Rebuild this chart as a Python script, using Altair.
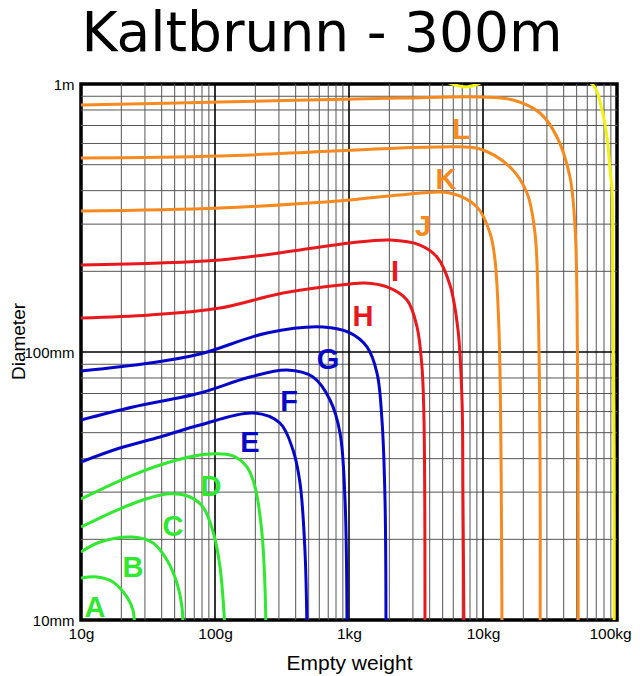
import altair as alt
import pandas as pd

TITLE = "Kaltbrunn - 300m"

# ---- curves: empty weight (g) vs diameter (mm) ----
A_w = [10, 13.2, 17.3, 22.0, 24.4, 25.3]
A_d = [14.35, 14.47, 13.87, 12.19, 10.9, 9]
B_w = [10, 13.9, 24.4, 34.5, 43.8, 52.0, 56.7, 57.7]
B_d = [17.94, 19.54, 20.4, 19.38, 16.75, 13.74, 11.18, 9]
C_w = [10, 18.6, 29.0, 43.8, 65.1, 81.4, 96.6, 109, 119]
C_d = [22.23, 25.72, 28.04, 29.53, 28.77, 26.39, 21.4, 15.77, 9]
D_w = [10, 24.4, 52.0, 91.8, 136, 173, 199, 224, 236, 240]
D_d = [28.28, 34.75, 39.54, 41.63, 40.93, 37.24, 31.35, 21.12, 13.3, 9]
E_w = [10, 19.5, 38.9, 77.3, 192, 305, 382, 431, 469, 486]
E_d = [38.86, 43.82, 48.17, 53.4, 59.2, 54.33, 43.08, 32.44, 18.25, 9]
F_w = [10, 24.4, 77.3, 182, 345, 539, 722, 857, 934, 967]
F_d = [55.75, 62.34, 70.31, 80.64, 85.65, 80.64, 66.2, 49.86, 28.04, 9]
G_w = [10, 32.7, 77.3, 244, 640, 1017, 1362, 1618, 1762, 1857, 1888]
G_d = [84.93, 90.98, 98.3, 117.8, 124.0, 117.8, 104.4, 83.47, 55.75, 28.04, 9]
H_w = [10, 32.7, 109, 322, 1017, 1316, 1921, 2710, 3218, 3505, 3628, 3690]
H_d = [133.9, 137.4, 145.9, 166.0, 179.4, 181.0, 174.9, 156.3, 124.0, 87.9, 55.75, 9]
I_w = [10, 109, 431, 1017, 2023, 3388, 4536, 5670, 6508, 6971, 7090, 7211]
I_d = [211.3, 220.5, 240.2, 255.1, 261.8, 250.7, 226.1, 177.8, 120.8, 66.2, 28.04, 9]
J_w = [10, 109, 1017, 2403, 5670, 9020, 11280, 12290, 13160, 13620, 13860]
J_d = [335.9, 344.6, 369.3, 385.4, 392.1, 347.6, 278.0, 220.5, 120.8, 43.08, 9]
K_w = [10, 109, 2403, 4775, 9500, 15900, 21300, 24430, 25730, 26640, 26700]
K_d = [529.6, 538.8, 577.1, 582.1, 572.2, 490.0, 392.1, 278.0, 156.3, 43.08, 9]
L_w = [10, 109, 2403, 9500, 16750, 26640, 35650, 44570, 48610, 50290, 51170, 51300]
L_d = [835.1, 856.9, 886.6, 894.2, 871.7, 779.4, 634.3, 449.8, 292.7, 156.3, 43.08, 9]
M_w = [4775, 7464, 11670, 37550, 66220, 77270, 84230, 88720, 91780, 93330, 94980, 95200]
M_d = [1044, 974.6, 1044, 1108, 991.4, 799.6, 634.3, 477.5, 402.3, 156.3, 43.08, 9]

CURVES = {
    "A": (A_w, A_d), "B": (B_w, B_d), "C": (C_w, C_d), "D": (D_w, D_d),
    "E": (E_w, E_d), "F": (F_w, F_d), "G": (G_w, G_d), "H": (H_w, H_d),
    "I": (I_w, I_d), "J": (J_w, J_d), "K": (K_w, K_d), "L": (L_w, L_d),
    "M": (M_w, M_d),
}
GREEN, BLUE, RED, ORANGE, YELLOW = "#30e830", "#0606c8", "#e8181c", "#f68a1e", "#f2f212"
CURVE_NAMES = ["A", "B", "C", "D", "E", "F", "G", "H", "I", "J", "K", "L", "M"]
CURVE_COLORS = [GREEN, GREEN, GREEN, GREEN, BLUE, BLUE, BLUE, RED, RED,
                ORANGE, ORANGE, ORANGE, YELLOW]

# ---- curve labels ----
LAB_TEXT = ["A", "B", "C", "D", "E", "F", "G", "H", "I", "J", "K", "L"]
LAB_W = [12.72, 24.4, 48.6, 93.3, 182, 356.6, 697.5, 1272, 2205, 3566, 5295, 6852]
LAB_D = [11.09, 15.63, 22.23, 31.35, 45.75, 65.07, 93.35, 135.1, 198.9, 292.7, 438.5, 673.7]

# ---- axes ----
X_TICKS = [10, 100, 1000, 10000, 100000]
X_LABELS = ["10g", "100g", "1kg", "10kg", "100kg"]
Y_TICKS = [10, 100, 1000]
Y_LABELS = ["10mm", "100mm", "1m"]

# ---- grid ----
MINOR_MULT = [2, 3, 4, 5, 6, 7, 8, 9]
X_DECADES = [10, 100, 1000, 10000]
Y_DECADES = [10, 100]
X_MAJOR = [100, 1000, 10000]
Y_MAJOR = [100]

FONT = "Liberation Sans"


def label_expr(vals, labs):
    parts = [f"datum.value == {v} ? '{l}'" for v, l in zip(vals, labs)]
    return " : ".join(parts) + " : ''"


rows = []
for name in CURVE_NAMES:
    ws, ds = CURVES[name]
    for i, (w, d) in enumerate(zip(ws, ds)):
        rows.append({"curve": name, "i": i, "w": w, "d": d})
curves_df = pd.DataFrame(rows)

labels_df = pd.DataFrame({"txt": LAB_TEXT, "w": LAB_W, "d": LAB_D,
                          "curve": LAB_TEXT})

vminor = pd.DataFrame({"w": [m * dec for dec in X_DECADES for m in MINOR_MULT]})
hminor = pd.DataFrame({"d": [m * dec for dec in Y_DECADES for m in MINOR_MULT]})
vmajor = pd.DataFrame({"w": X_MAJOR})
hmajor = pd.DataFrame({"d": Y_MAJOR})

xscale = alt.Scale(type="log", domain=[10, 100000])
yscale = alt.Scale(type="log", domain=[10, 1000])

xaxis = alt.Axis(values=X_TICKS, labelExpr=label_expr(X_TICKS, X_LABELS),
                 grid=False, ticks=False, domain=False, labelFont=FONT,
                 labelFontSize=15.5, labelColor="black", labelPadding=6,
                 labelFlush=False, labelOverlap=False,
                 labelOffset=alt.condition("datum.value == 100000",
                                           alt.value(-7), alt.value(0)),
                 title="Empty weight", titleFont=FONT, titleFontSize=21,
                 titleFontWeight="normal", titleColor="black",
                 titleBaseline="middle", titleY=43)
yaxis = alt.Axis(values=Y_TICKS, labelExpr=label_expr(Y_TICKS, Y_LABELS),
                 grid=False, ticks=False, domain=False, labelFont=FONT,
                 labelFontSize=15, labelColor="black", labelPadding=7,
                 labelFlush=False, labelOverlap=False,
                 title="Diameter", titleFont=FONT, titleFontSize=19,
                 titleFontWeight="normal", titleColor="black",
                 titleAngle=-90, titleBaseline="middle", titleAlign="center",
                 titleX=-63, titleY=257)

X = alt.X("w:Q", scale=xscale, axis=xaxis)
Y = alt.Y("d:Q", scale=yscale, axis=yaxis)

color = alt.Color("curve:N", scale=alt.Scale(domain=CURVE_NAMES, range=CURVE_COLORS),
                  legend=None)

g_vmin = alt.Chart(vminor).mark_rule(color="#555555", strokeWidth=1).encode(x=X)
g_hmin = alt.Chart(hminor).mark_rule(color="#555555", strokeWidth=1).encode(y=Y)
g_vmaj = alt.Chart(vmajor).mark_rule(color="#000000", strokeWidth=1.6).encode(x=X)
g_hmaj = alt.Chart(hmajor).mark_rule(color="#000000", strokeWidth=1.6).encode(y=Y)

lines = alt.Chart(curves_df).mark_line(strokeWidth=3, clip=True,
                                       interpolate="catmull-rom").encode(
    x=X, y=Y, color=color, detail="curve:N", order="i:Q")

texts = alt.Chart(labels_df).mark_text(font=FONT, fontSize=29, fontWeight="bold",
                                       align="center", baseline="middle").encode(
    x=X, y=Y, text="txt:N", color=color)

chart = alt.layer(g_vmin, g_hmin, g_vmaj, g_hmaj, lines, texts).properties(
    width=536, height=536,
    autosize=alt.AutoSizeParams(type="none"),
    padding={"left": 73, "top": 76, "right": 15, "bottom": 55},
    title=alt.TitleParams(TITLE, font="DejaVu Sans", fontSize=55,
                          fontWeight="normal", color="black", anchor="middle",
                          dx=-27, offset=14),
).configure_view(stroke="black", strokeWidth=3.5)

chart.save("out.html", embed_options={"renderer": "svg", "actions": False})
